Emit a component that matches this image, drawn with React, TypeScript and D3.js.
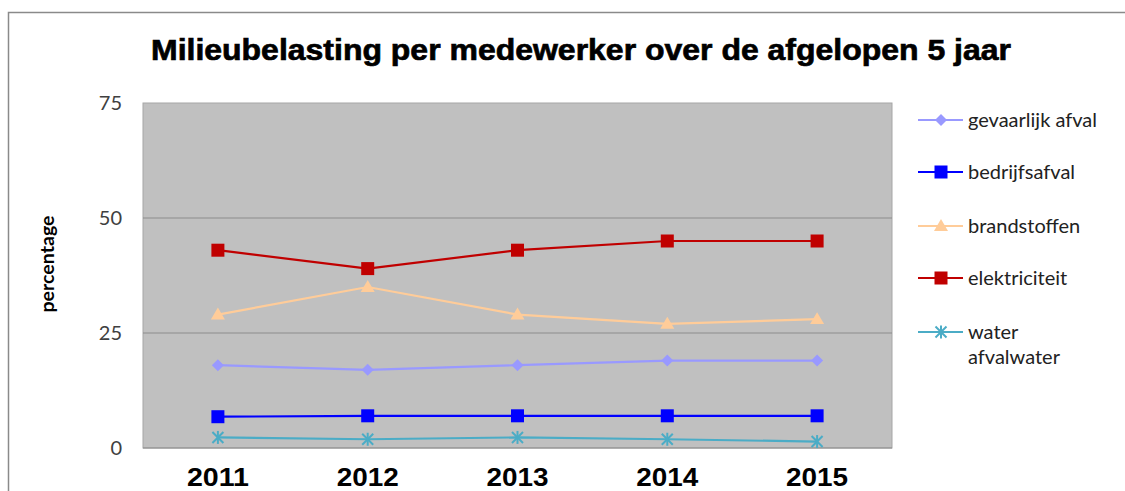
import React from "react";
import * as d3 from "d3";

const years = ["2011", "2012", "2013", "2014", "2015"];
const gevaarlijkAfval = [18, 17, 18, 19, 19];
const bedrijfsafval = [6.8, 7, 7, 7, 7];
const brandstoffen = [29, 35, 29, 27, 28];
const elektriciteit = [43, 39, 43, 45, 45];
const waterAfvalwater = [2.3, 1.9, 2.3, 1.9, 1.4];
const yTicks = [0, 25, 50, 75];

const series = [
  { name: ["gevaarlijk afval"], values: gevaarlijkAfval, color: "#9999ff", marker: "diamond" },
  { name: ["bedrijfsafval"], values: bedrijfsafval, color: "#0000ff", marker: "square" },
  { name: ["brandstoffen"], values: brandstoffen, color: "#ffcc99", marker: "triangle" },
  { name: ["elektriciteit"], values: elektriciteit, color: "#c00000", marker: "square" },
  { name: ["water", "afvalwater"], values: waterAfvalwater, color: "#4bacc6", marker: "star" },
];

function Marker({ type, x, y, color }: { type: string; x: number; y: number; color: string }) {
  if (type === "diamond") {
    const s = 6;
    return <path d={`M${x},${y - s}L${x + s},${y}L${x},${y + s}L${x - s},${y}Z`} fill={color} />;
  }
  if (type === "square") {
    const s = 6.5;
    return <rect x={x - s} y={y - s} width={2 * s} height={2 * s} fill={color} />;
  }
  if (type === "triangle") {
    const s = 7;
    return <path d={`M${x},${y - s}L${x + s},${y + s * 0.7}L${x - s},${y + s * 0.7}Z`} fill={color} />;
  }
  const s = 5.5;
  return (
    <g stroke={color} strokeWidth={2}>
      <line x1={x - s} y1={y - s} x2={x + s} y2={y + s} />
      <line x1={x - s} y1={y + s} x2={x + s} y2={y - s} />
      <line x1={x} y1={y - s - 1} x2={x} y2={y + s + 1} />
    </g>
  );
}

export default function App() {
  const W = 1125;
  const H = 491;
  const left = 143;
  const right = 892;
  const top = 103;
  const bottom = 448;

  const x = d3.scaleBand<string>().domain(years).range([left, right]);
  const y = d3.scaleLinear().domain([0, 75]).range([bottom, top]);
  const cx = (yr: string) => (x(yr) as number) + x.bandwidth() / 2;

  const line = d3
    .line<number>()
    .x((_, i) => cx(years[i]))
    .y((d) => y(d));

  const legendRowsY = [120, 172, 226, 278, 332];

  return (
    <svg
      width={W}
      height={H}
      style={{ position: "absolute", left: 0, top: 0, background: "#fff" }}
    >
      <rect x={0} y={0} width={W} height={H} fill="#fff" />
      <path d={`M8.5,${H}V12.5H${W}`} fill="none" stroke="#8a8a8a" strokeWidth={1.5} />
      <text
        x={581}
        y={60}
        textAnchor="middle"
        fontFamily="Liberation Sans, Arial, sans-serif"
        fontWeight="bold"
        fontSize={30}
        fill="#000"
        stroke="#000"
        strokeWidth={0.7}
        textLength={860}
        lengthAdjust="spacingAndGlyphs"
      >
        Milieubelasting per medewerker over de afgelopen 5 jaar
      </text>

      <rect x={left} y={top} width={right - left} height={bottom - top} fill="#c0c0c0" stroke="#a6a6a6" strokeWidth={1} />
      {yTicks
        .filter((t) => t > 0 && t < 75)
        .map((t) => (
          <line key={t} x1={left} x2={right} y1={y(t)} y2={y(t)} stroke="#8c8c8c" strokeWidth={1.2} />
        ))}
      <line x1={left} x2={right} y1={bottom} y2={bottom} stroke="#8c8c8c" strokeWidth={1.2} />

      {yTicks.map((t) => (
        <text
          key={t}
          x={122}
          y={y(t)}
          dy="0.35em"
          textAnchor="end"
          fontFamily="Lato, Open Sans, sans-serif"
          fontSize={20}
          fill="#404040"
        >
          {t}
        </text>
      ))}
      <text
        transform={`translate(54,${264}) rotate(-90)`}
        textAnchor="middle"
        fontFamily="Lato, Open Sans, sans-serif"
        fontWeight="bold"
        fontSize={18}
        fill="#000"
        textLength={97}
        lengthAdjust="spacingAndGlyphs"
      >
        percentage
      </text>

      {years.map((yr) => (
        <text
          key={yr}
          x={cx(yr)}
          y={486}
          textAnchor="middle"
          fontFamily="Liberation Sans, Arial, sans-serif"
          fontWeight="bold"
          fontSize={26}
          fill="#000"
          textLength={62}
          lengthAdjust="spacingAndGlyphs"
        >
          {yr}
        </text>
      ))}

      {series.map((s) => (
        <g key={s.name.join(" ")}>
          <path d={line(s.values) || ""} fill="none" stroke={s.color} strokeWidth={2.2} />
          {s.values.map((v, i) => (
            <Marker key={i} type={s.marker} x={cx(years[i])} y={y(v)} color={s.color} />
          ))}
        </g>
      ))}

      {series.map((s, i) => {
        const ly = legendRowsY[i];
        return (
          <g key={"leg" + i}>
            <line x1={918} x2={963} y1={ly} y2={ly} stroke={s.color} strokeWidth={2.2} />
            <Marker type={s.marker} x={941} y={ly} color={s.color} />
            {s.name.map((n, j) => (
              <text
                key={j}
                x={968}
                y={ly + j * 25}
                dy="0.35em"
                fontFamily="Lato, Open Sans, sans-serif"
                fontSize={20}
                fill="#222"
              >
                {n}
              </text>
            ))}
          </g>
        );
      })}
    </svg>
  );
}
